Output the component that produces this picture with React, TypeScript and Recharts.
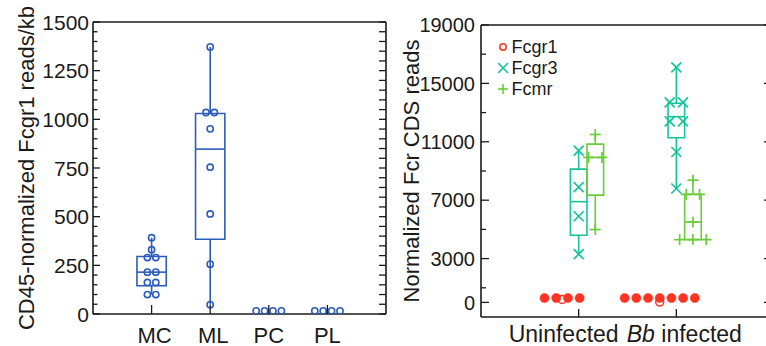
import React from 'react';
import {
  ComposedChart,
  Scatter,
  XAxis,
  YAxis,
  ReferenceArea,
  ReferenceLine,
  Legend,
} from 'recharts';

const FONT = '"Liberation Sans", Arial, Helvetica, sans-serif';
const INK = '#1a1a1a';
const BLUE = '#2D5DBA';
const RED = '#FF3322';
const TEAL = '#17C49A';
const GREEN = '#6BCB3A';

// ---------------- left panel data ----------------
const L_CATS = ['MC', 'ML', 'PC', 'PL'];
const L_POS = [1, 2, 3, 4];
const L_VALUES = [
  [392, 330, 290, 290, 215, 215, 162, 162, 100, 100],
  [1372, 1035, 1035, 951, 754, 514, 256, 48],
  [16, 16, 16, 16],
  [16, 16, 16, 16],
];
const L_Q1 = [145, 384, null, null];
const L_MED = [215, 847, null, null];
const L_Q3 = [295, 1030, null, null];
const L_LO = [100, 48, null, null];
const L_HI = [392, 1372, null, null];
const L_YLABEL = 'CD45-normalized Fcgr1 reads/kb';
const L_YMAJOR = [0, 250, 500, 750, 1000, 1250, 1500];
const L_YTICKS = Array.from({ length: 31 }, (_, i) => i * 50);

// ---------------- right panel data ----------------
const R_CATS = ['Uninfected', 'Bb infected'];
const R_ITALIC = ['', 'Bb'];
const R_POS = [1, 2];
const R_SERIES = ['Fcgr1', 'Fcgr3', 'Fcmr'];
const R_YLABEL = 'Normalized Fcr CDS reads';
const R_YMAJOR = [0, 3000, 7000, 11000, 15000, 19000];
const R_YTICKS = [0, 1000, 3000, 5000, 7000, 9000, 11000, 13000, 15000, 17000, 19000];

const FCGR1_VALUES = [
  [300, 300, 300, 300],
  [300, 300, 300, 300, 300, 300, 300],
];
const FCGR1_OPEN = [[200], [20]];

const FCGR3_VALUES = [
  [10400, 7900, 5900, 3300],
  [16100, 13700, 13700, 12400, 12400, 10300, 7800],
];
const FCGR3_Q1 = [4600, 11280];
const FCGR3_MED = [6900, 12720];
const FCGR3_Q3 = [9130, 13640];
const FCGR3_LO = [3300, 7800];
const FCGR3_HI = [10400, 16100];

const FCMR_VALUES = [
  [11500, 9930, 9930, 4990],
  [8370, 7400, 7400, 5510, 4300, 4300, 4300],
];
const FCMR_Q1 = [7350, 4300];
const FCMR_MED = [9930, 5510];
const FCMR_Q3 = [10840, 7400];
const FCMR_LO = [4990, 4300];
const FCMR_HI = [11500, 8370];

// ---------------- layout / style constants ----------------
const R_OFFSET = [-0.17, 0, 0.17];
const L_HALF = 0.25;
const R_HALF = 0.085;
const L_LABEL_DX = [3, 3, 0, 0];
const R_LABEL_DX = [-15, 8];

function spread(values: number[]) {
  const counts = new Map<number, number>();
  values.forEach((v) => counts.set(v, (counts.get(v) || 0) + 1));
  const seen = new Map<number, number>();
  return values.map((v) => {
    const n = counts.get(v) || 1;
    const k = seen.get(v) || 0;
    seen.set(v, k + 1);
    return { y: v, slot: k - (n - 1) / 2 };
  });
}

function groupPoints(groups: number[][], pos: number[], off = 0) {
  const out: { x: number; y: number; slot: number }[] = [];
  groups.forEach((vals, g) => {
    spread(vals).forEach((p) => out.push({ x: pos[g] + off, y: p.y, slot: p.slot }));
  });
  return out;
}

const L_POINTS = groupPoints(L_VALUES, L_POS);
const R1_POINTS = groupPoints(FCGR1_VALUES, R_POS, R_OFFSET[0]);
const R1_OPEN = groupPoints(FCGR1_OPEN, R_POS, R_OFFSET[0]);
const R3_POINTS = groupPoints(FCGR3_VALUES, R_POS, R_OFFSET[1]);
const RM_POINTS = groupPoints(FCMR_VALUES, R_POS, R_OFFSET[2]);

// ---------------- shapes ----------------
const circleShape = (color: string, step: number, r: number, filled: boolean, sw = 1.6) => (p: any) => {
  if (p == null || p.cx == null) return <g />;
  const cx = p.cx + (p.payload?.slot ?? 0) * step;
  return (
    <circle
      cx={cx}
      cy={p.cy}
      r={r}
      fill={filled ? color : 'none'}
      stroke={color}
      strokeWidth={filled ? 0.5 : sw}
    />
  );
};

const crossShape = (color: string, step: number, a: number) => (p: any) => {
  if (p == null || p.cx == null) return <g />;
  const cx = p.cx + (p.payload?.slot ?? 0) * step;
  const cy = p.cy;
  return (
    <g stroke={color} strokeWidth={1.7}>
      <line x1={cx - a} y1={cy - a} x2={cx + a} y2={cy + a} />
      <line x1={cx - a} y1={cy + a} x2={cx + a} y2={cy - a} />
    </g>
  );
};

const plusShape = (color: string, step: number, a: number) => (p: any) => {
  if (p == null || p.cx == null) return <g />;
  const cx = p.cx + (p.payload?.slot ?? 0) * step;
  const cy = p.cy;
  return (
    <g stroke={color} strokeWidth={1.7}>
      <line x1={cx - a} y1={cy} x2={cx + a} y2={cy} />
      <line x1={cx} y1={cy - a} x2={cx} y2={cy + a} />
    </g>
  );
};

// ---------------- ticks ----------------
const yTick = (
  side: 'left' | 'right',
  majors: number[],
  majorLen: number,
  minorLen: number,
  fontSize: number,
  gap: number,
  showLabels: boolean,
) => (props: any) => {
  const { x, y, payload } = props;
  const v = payload.value;
  const isMajor = majors.includes(v);
  const len = isMajor ? majorLen : minorLen;
  const dir = side === 'left' ? 1 : -1;
  return (
    <g>
      <line x1={x} x2={x + dir * len} y1={y} y2={y} stroke={INK} strokeWidth={1.3} />
      {showLabels && isMajor && (
        <text
          x={x - gap}
          y={y}
          dy="0.36em"
          textAnchor="end"
          fontFamily={FONT}
          fontSize={fontSize}
          fill={INK}
        >
          {v}
        </text>
      )}
    </g>
  );
};

const xTick = (
  side: 'top' | 'bottom',
  len: number,
  labelFn: ((v: number) => React.ReactNode) | null,
  dxFn: ((v: number) => number) | null,
  fontSize: number,
  baseline: number,
) => (props: any) => {
  const { x, y, payload } = props;
  const dir = side === 'bottom' ? -1 : 1;
  return (
    <g>
      <line x1={x} x2={x} y1={y} y2={y + dir * len} stroke={INK} strokeWidth={1.3} />
      {labelFn && (
        <text
          x={x + (dxFn ? dxFn(payload.value) : 0)}
          y={y + baseline}
          textAnchor="middle"
          fontFamily={FONT}
          fontSize={fontSize}
          fill={INK}
        >
          {labelFn(payload.value)}
        </text>
      )}
    </g>
  );
};

const axisLineStyle = { stroke: INK, strokeWidth: 1.6 };

const leftLabel = (v: number) => {
  const i = L_POS.indexOf(v);
  return i >= 0 ? L_CATS[i] : '';
};
const leftDx = (v: number) => {
  const i = L_POS.indexOf(v);
  return i >= 0 ? L_LABEL_DX[i] : 0;
};

const rightLabel = (v: number) => {
  const i = R_POS.indexOf(v);
  if (i < 0) return '';
  const it = R_ITALIC[i];
  if (!it) return R_CATS[i];
  return (
    <>
      <tspan fontStyle="italic">{it}</tspan>
      <tspan>{R_CATS[i].slice(it.length)}</tspan>
    </>
  );
};
const rightDx = (v: number) => {
  const i = R_POS.indexOf(v);
  return i >= 0 ? R_LABEL_DX[i] : 0;
};

const yAxisLabel = (text: string, bx: number, fontSize: number) => (props: any) => {
  const vb = props.viewBox || { x: 0, y: 0, width: 0, height: 0 };
  const cx = vb.x + bx;
  const cy = vb.y + vb.height / 2;
  return (
    <text
      x={cx}
      y={cy}
      transform={`rotate(-90, ${cx}, ${cy})`}
      textAnchor="middle"
      fontFamily={FONT}
      fontSize={fontSize}
      fill={INK}
    >
      {text}
    </text>
  );
};

function boxElements(
  pos: number[],
  off: number,
  half: number,
  q1: (number | null)[],
  med: (number | null)[],
  q3: (number | null)[],
  lo: (number | null)[],
  hi: (number | null)[],
  color: string,
  key: string,
) {
  const els: React.ReactNode[] = [];
  pos.forEach((p, i) => {
    const a = q1[i];
    const m = med[i];
    const b = q3[i];
    const l = lo[i];
    const h = hi[i];
    if (a == null || b == null || m == null) return;
    const c = p + off;
    if (l != null && l < a) {
      els.push(
        <ReferenceLine
          key={`${key}-wl${i}`}
          segment={[{ x: c, y: l }, { x: c, y: a }]}
          stroke={color}
          strokeWidth={1.6}
          ifOverflow="visible"
        />,
      );
    }
    if (h != null && h > b) {
      els.push(
        <ReferenceLine
          key={`${key}-wh${i}`}
          segment={[{ x: c, y: b }, { x: c, y: h }]}
          stroke={color}
          strokeWidth={1.6}
          ifOverflow="visible"
        />,
      );
    }
    els.push(
      <ReferenceArea
        key={`${key}-box${i}`}
        x1={c - half}
        x2={c + half}
        y1={a}
        y2={b}
        fill="#ffffff"
        fillOpacity={0}
        stroke={color}
        strokeWidth={1.6}
        ifOverflow="visible"
      />,
    );
    els.push(
      <ReferenceLine
        key={`${key}-med${i}`}
        segment={[{ x: c - half, y: m }, { x: c + half, y: m }]}
        stroke={color}
        strokeWidth={1.6}
        ifOverflow="visible"
      />,
    );
  });
  return els;
}

const legendMarkers = [
  (c: string) => <circle cx={7} cy={7} r={3.2} fill="none" stroke={c} strokeWidth={1.5} />,
  (c: string) => (
    <g stroke={c} strokeWidth={1.6}>
      <line x1={2} y1={2} x2={12} y2={12} />
      <line x1={2} y1={12} x2={12} y2={2} />
    </g>
  ),
  (c: string) => (
    <g stroke={c} strokeWidth={1.6}>
      <line x1={2} y1={7} x2={12} y2={7} />
      <line x1={7} y1={2} x2={7} y2={12} />
    </g>
  ),
];
const R_COLORS = [RED, TEAL, GREEN];

const LegendContent = () => (
  <div style={{ fontFamily: FONT, fontSize: 18, color: INK }}>
    {R_SERIES.map((name, i) => (
      <div key={name} style={{ display: 'flex', alignItems: 'center', height: 21.3 }}>
        <svg width={14} height={14} style={{ display: 'block' }}>
          {legendMarkers[i](R_COLORS[i])}
        </svg>
        <span style={{ marginLeft: 1.5, lineHeight: '18px' }}>{name}</span>
      </div>
    ))}
  </div>
);

function LeftChart() {
  return (
    <ComposedChart
      width={401}
      height={346}
      margin={{ top: 12, right: 0, bottom: 0, left: 0 }}
      style={{ position: 'absolute', left: 0, top: 0 }}
    >
      <XAxis
        xAxisId={0}
        type="number"
        dataKey="x"
        domain={[0, 5]}
        ticks={L_POS}
        interval={0}
        allowDataOverflow
        height={32}
        tickLine={false}
        tickSize={0}
        tickMargin={0}
        axisLine={axisLineStyle}
        tick={xTick('bottom', 9, leftLabel, leftDx, 22, 28.5)}
      />
      <XAxis
        xAxisId="top"
        orientation="top"
        type="number"
        domain={[0, 5]}
        ticks={L_POS}
        interval={0}
        allowDataOverflow
        height={10}
        tickLine={false}
        tickSize={0}
        tickMargin={0}
        axisLine={axisLineStyle}
        tick={xTick('top', 8, null, null, 22, 0)}
      />
      <YAxis
        yAxisId={0}
        type="number"
        dataKey="y"
        domain={[0, 1500]}
        ticks={L_YTICKS}
        interval={0}
        allowDataOverflow
        width={93}
        tickLine={false}
        tickSize={0}
        tickMargin={0}
        axisLine={axisLineStyle}
        tick={yTick('left', L_YMAJOR, 7, 4.5, 21, 4, true)}
        label={yAxisLabel(L_YLABEL, 33.5, 22)}
      />
      <YAxis
        yAxisId="right"
        orientation="right"
        type="number"
        domain={[0, 1500]}
        ticks={L_YTICKS}
        interval={0}
        allowDataOverflow
        width={15}
        tickLine={false}
        tickSize={0}
        tickMargin={0}
        axisLine={axisLineStyle}
        tick={yTick('right', L_YMAJOR, 7, 7, 21, 4, false)}
      />
      {boxElements(L_POS, 0, L_HALF, L_Q1, L_MED, L_Q3, L_LO, L_HI, BLUE, 'l')}
      <Scatter
        data={L_POINTS}
        dataKey="y"
        isAnimationActive={false}
        shape={circleShape(BLUE, 8.4, 3.1, false)}
      />
    </ComposedChart>
  );
}

function RightChart() {
  return (
    <ComposedChart
      width={406}
      height={346}
      margin={{ top: 15, right: 0, bottom: 0, left: 0 }}
      style={{ position: 'absolute', left: 380, top: 0 }}
    >
      <XAxis
        xAxisId={0}
        type="number"
        dataKey="x"
        domain={[0, 3]}
        ticks={R_POS}
        interval={0}
        allowDataOverflow
        height={29}
        tickLine={false}
        tickSize={0}
        tickMargin={0}
        axisLine={axisLineStyle}
        tick={xTick('bottom', 8, rightLabel, rightDx, 23, 25)}
      />
      <XAxis
        xAxisId="top"
        orientation="top"
        type="number"
        domain={[0, 3]}
        ticks={R_POS}
        interval={0}
        allowDataOverflow
        height={10}
        tickLine={false}
        tickSize={0}
        tickMargin={0}
        axisLine={axisLineStyle}
        tick={xTick('top', 8, null, null, 22, 0)}
      />
      <YAxis
        yAxisId={0}
        type="number"
        dataKey="y"
        domain={[-1000, 19000]}
        ticks={R_YTICKS}
        interval={0}
        allowDataOverflow
        width={101}
        tickLine={false}
        tickSize={0}
        tickMargin={0}
        axisLine={axisLineStyle}
        tick={yTick('left', R_YMAJOR, 8, 5, 20, 6, true)}
        label={yAxisLabel(R_YLABEL, 38.5, 22)}
      />
      <YAxis
        yAxisId="right"
        orientation="right"
        type="number"
        domain={[-1000, 19000]}
        ticks={R_YTICKS}
        interval={0}
        allowDataOverflow
        width={12}
        tickLine={false}
        tickSize={0}
        tickMargin={0}
        axisLine={axisLineStyle}
        tick={yTick('right', R_YMAJOR, 10, 5, 20, 6, false)}
      />
      {boxElements(R_POS, R_OFFSET[1], R_HALF, FCGR3_Q1, FCGR3_MED, FCGR3_Q3, FCGR3_LO, FCGR3_HI, TEAL, 'g3')}
      {boxElements(R_POS, R_OFFSET[2], R_HALF, FCMR_Q1, FCMR_MED, FCMR_Q3, FCMR_LO, FCMR_HI, GREEN, 'fm')}
      <Scatter
        name={R_SERIES[0] + ' open'}
        data={R1_OPEN}
        dataKey="y"
        isAnimationActive={false}
        shape={circleShape(RED, 11.7, 4, false, 1.5)}
      />
      <Scatter
        name={R_SERIES[0]}
        data={R1_POINTS}
        dataKey="y"
        isAnimationActive={false}
        shape={circleShape(RED, 11.7, 4.6, true)}
      />
      <Scatter
        name={R_SERIES[1]}
        data={R3_POINTS}
        dataKey="y"
        isAnimationActive={false}
        shape={crossShape(TEAL, 13.3, 5)}
      />
      <Scatter
        name={R_SERIES[2]}
        data={RM_POINTS}
        dataKey="y"
        isAnimationActive={false}
        shape={plusShape(GREEN, 13.3, 5.5)}
      />
      <Legend
        layout="vertical"
        align="center"
        verticalAlign="middle"
        wrapperStyle={{ left: 116, top: 36, width: 'auto' }}
        content={() => <LegendContent />}
      />
    </ComposedChart>
  );
}

export default function App() {
  return (
    <div
      style={{
        position: 'fixed',
        left: 0,
        top: 0,
        width: 766,
        height: 346,
        overflow: 'hidden',
        background: '#fff',
      }}
    >
      <LeftChart />
      <RightChart />
    </div>
  );
}
